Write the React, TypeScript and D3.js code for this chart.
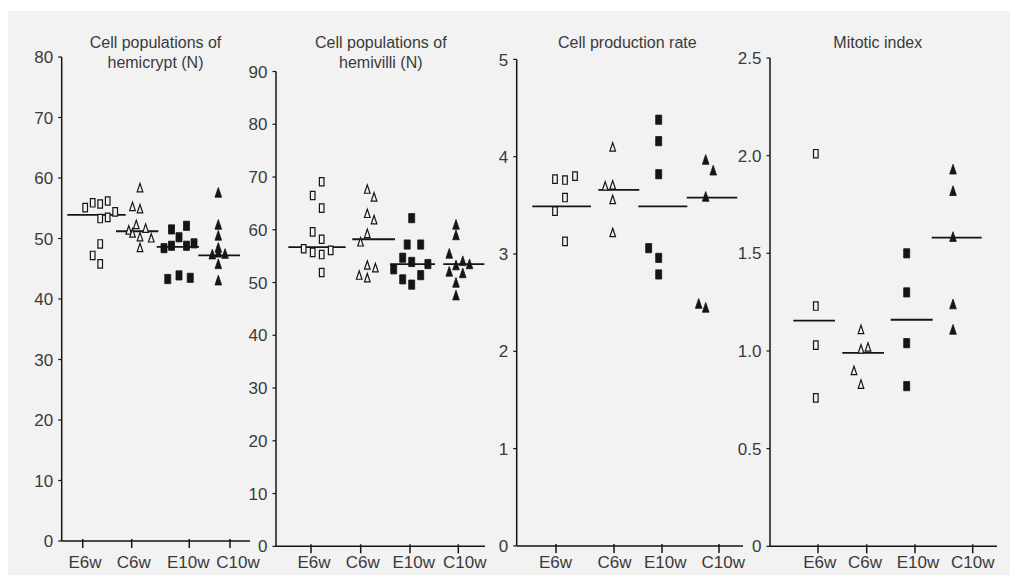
import React, { useRef, useEffect } from 'react';
import { select, scaleLinear, range } from 'd3';

const categories = ['E6w', 'C6w', 'E10w', 'C10w'];

// one list per group, order follows categories
const hemicryptValues = [
  [55.1, 55.9, 55.7, 56.2, 53.3, 53.5, 54.4, 49.1, 47.2, 45.8],
  [58.4, 55.3, 54.9, 52.3, 51.4, 50.9, 51.7, 50.3, 50.1, 48.5],
  [51.5, 52.1, 50.2, 48.4, 48.8, 48.8, 49.2, 43.3, 43.9, 43.5],
  [57.6, 52.3, 50.5, 48.5, 47.4, 47.7, 47.5, 45.8, 43.1],
];
// dodge column of each point inside its group
const hemicryptCols = [
  [-2, -1, 0, 1, 0, 1, 2, 0, -1, 0],
  [0, -1, 0, -0.5, -1.5, -1, 0.75, 0, 1.5, 0],
  [-1, 1, 0, -2, -1, 1, 2, -1.5, 0, 1.5],
  [0, 0, 0, 0, -0.8, 0, 0.9, 0, 0],
];
const hemicryptMeans = [53.9, 51.2, 48.6, 47.2];

const hemivilliValues = [
  [69.1, 66.5, 64.1, 59.6, 58.2, 56.4, 55.7, 55.3, 56.1, 51.9],
  [67.7, 66.2, 63.1, 61.9, 59.3, 57.7, 53.3, 52.8, 51.4, 50.9],
  [62.2, 57.2, 57.2, 54.7, 53.9, 53.5, 52.5, 50.6, 51.4, 49.6],
  [61.0, 59.0, 55.5, 53.3, 54.1, 53.5, 52.1, 51.8, 50.0, 47.6],
];
const hemivilliCols = [
  [0, -1, 0, -1, 0, -2, -1, 0, 1, 0],
  [0, 0.75, 0, 0.75, 0, -0.75, 0, 0.9, -0.9, 0],
  [0, -0.5, 1, -1, 0, 1.8, -2, -1, 1, 0],
  [0, 0, -0.75, 0, 0.75, 1.5, -0.75, 0.75, 0, 0],
];
const hemivilliMeans = [56.7, 58.2, 53.5, 53.5];

const productionValues = [
  [3.77, 3.76, 3.80, 3.58, 3.44, 3.13],
  [4.10, 3.70, 3.71, 3.56, 3.22],
  [4.38, 4.16, 3.82, 3.06, 2.96, 2.79],
  [3.97, 3.86, 3.59, 2.49, 2.45],
];
const productionCols = [
  [-1, 0, 1, 0, -1, 0],
  [0, -0.75, 0, 0, 0],
  [0, 0, 0, -1, 0, 0],
  [0, 0.75, 0, -0.7, 0],
];
const productionMeans = [3.49, 3.66, 3.49, 3.58];

const mitoticValues = [
  [2.01, 1.23, 1.03, 0.76],
  [1.11, 1.01, 1.02, 0.90, 0.83],
  [1.50, 1.30, 1.04, 0.82],
  [1.93, 1.82, 1.585, 1.24, 1.11],
];
const mitoticCols = [
  [0, 0, 0, 0],
  [0, 0, 1, -1, 0],
  [0, 0, 0, 0],
  [0, 0, 0, 0, 0],
];
const mitoticMeans = [1.155, 0.99, 1.16, 1.58];

// layout of the four panels (pixels), kept apart from the data
const panels = [
  {
    title: ['Cell populations of', 'hemicrypt (N)'], titleX: 155.5,
    x0: 61.7, len: 188.3, yZero: 541, yTop: 57, yMax: 80, yStep: 10, step: 7.5,
    tickAt: [21, 70, 127.6, 168.3], labelAt: [23.3, 72, 126.6, 176.3],
    groupAt: [38.5, 78.3, 117.3, 156.6],
    meanSpan: [[5.6, 64], [54.3, 96.6], [95, 137.3], [136.6, 178.3]],
    values: hemicryptValues, cols: hemicryptCols, means: hemicryptMeans,
    fmt: (d) => String(d),
  },
  {
    title: ['Cell populations of', 'hemivilli (N)'], titleX: 380.8,
    x0: 276, len: 209, yZero: 546.3, yTop: 71.5, yMax: 90, yStep: 10, step: 9,
    tickAt: [35, 84.7, 134, 182.3], labelAt: [38, 86.8, 137.8, 188.7],
    groupAt: [45.7, 91.3, 135.7, 180],
    meanSpan: [[12.3, 69.7], [76.3, 119], [114, 159], [167.3, 208.3]],
    values: hemivilliValues, cols: hemivilliCols, means: hemivilliMeans,
    fmt: (d) => String(d),
  },
  {
    title: ['Cell production rate'], titleX: 627.3,
    x0: 516.7, len: 226.3, yZero: 545.9, yTop: 59.4, yMax: 5, yStep: 1, step: 10,
    tickAt: [39.3, 97.3, 145.3, 202.3], labelAt: [38.8, 97.8, 148.6, 206.6],
    groupAt: [48.3, 96, 142, 189],
    meanSpan: [[15.6, 74.3], [81.6, 122.6], [121.6, 170.6], [170, 220.6]],
    values: productionValues, cols: productionCols, means: productionMeans,
    fmt: (d) => String(d),
  },
  {
    title: ['Mitotic index'], titleX: 877.8,
    x0: 770, len: 227, yZero: 546.3, yTop: 58, yMax: 2.5, yStep: 0.5, step: 7,
    tickAt: [48, 96.7, 145, 202.7], labelAt: [49.7, 95, 148, 202.8],
    groupAt: [45.8, 91, 136.7, 183],
    meanSpan: [[23.3, 65], [72.3, 114], [120.7, 162.7], [161.7, 211.7]],
    values: mitoticValues, cols: mitoticCols, means: mitoticMeans,
    fmt: (d) => (d === 0 ? '0' : d.toFixed(1)),
  },
];

const FONT = '"Liberation Sans", Arial, sans-serif';
const BG = '#f2f2f2';
const INK = '#151515';
const TEXT = '#3a3a3a';

// marker for each group: E6w open square, C6w open triangle, E10w filled square, C10w filled triangle
const markerPath = (i) => {
  if (i === 0) return 'M-2.3,-4.2H2.3V4.2H-2.3Z';
  if (i === 1) return 'M0,-4.3L2.8,4.1H-2.8Z';
  if (i === 2) return 'M-3,-4.6H3V4.6H-3Z';
  return 'M0,-5L3.3,4.7H-3.3Z';
};

const App = () => {
  const svgRef = useRef(null);

  useEffect(() => {
    const svg = select(svgRef.current);
    svg.selectAll('*').remove();

    svg.append('rect')
      .attr('x', 8).attr('y', 11)
      .attr('width', 1002).attr('height', 564)
      .attr('fill', BG);

    panels.forEach((p) => {
      const g = svg.append('g');
      const x = scaleLinear().domain([0, p.len]).range([p.x0, p.x0 + p.len]);
      const y = scaleLinear().domain([0, p.yMax]).range([p.yZero, p.yTop]);

      // title
      p.title.forEach((t, k) => {
        g.append('text')
          .attr('x', p.titleX)
          .attr('y', 47.5 + k * 20.5)
          .attr('text-anchor', 'middle')
          .attr('font-family', FONT)
          .attr('font-size', 16)
          .attr('fill', TEXT)
          .text(t);
      });

      // y axis
      g.append('line')
        .attr('x1', p.x0).attr('x2', p.x0)
        .attr('y1', y(p.yMax)).attr('y2', y(0))
        .attr('stroke', INK).attr('stroke-width', 1.5);
      const yTicks = range(0, p.yMax + p.yStep / 2, p.yStep);
      g.selectAll('.ytick')
        .data(yTicks)
        .join('line')
        .attr('class', 'ytick')
        .attr('x1', p.x0 - 3.5).attr('x2', p.x0)
        .attr('y1', (d) => y(d)).attr('y2', (d) => y(d))
        .attr('stroke', INK).attr('stroke-width', 1.2);
      g.selectAll('.ylabel')
        .data(yTicks)
        .join('text')
        .attr('class', 'ylabel')
        .attr('x', p.x0 - 8.5)
        .attr('y', (d) => y(d))
        .attr('dy', '0.36em')
        .attr('text-anchor', 'end')
        .attr('font-family', FONT)
        .attr('font-size', 17)
        .attr('fill', TEXT)
        .text(p.fmt);

      // x axis
      g.append('line')
        .attr('x1', x(0)).attr('x2', x(p.len))
        .attr('y1', p.yZero).attr('y2', p.yZero)
        .attr('stroke', INK).attr('stroke-width', 1.5);
      g.selectAll('.xtick')
        .data(p.tickAt)
        .join('line')
        .attr('class', 'xtick')
        .attr('x1', (d) => x(d)).attr('x2', (d) => x(d))
        .attr('y1', p.yZero - 2).attr('y2', p.yZero + 7)
        .attr('stroke', INK).attr('stroke-width', 1.5);
      g.selectAll('.xlabel')
        .data(p.labelAt)
        .join('text')
        .attr('class', 'xlabel')
        .attr('x', (d) => x(d))
        .attr('y', 568)
        .attr('text-anchor', 'middle')
        .attr('font-family', FONT)
        .attr('font-size', 17)
        .attr('fill', TEXT)
        .text((d, i) => categories[i]);

      // mean lines
      g.selectAll('.mean')
        .data(p.means)
        .join('line')
        .attr('class', 'mean')
        .attr('x1', (d, i) => x(p.meanSpan[i][0]))
        .attr('x2', (d, i) => x(p.meanSpan[i][1]))
        .attr('y1', (d) => y(d)).attr('y2', (d) => y(d))
        .attr('stroke', INK).attr('stroke-width', 1.8);

      // points
      p.values.forEach((vals, gi) => {
        const filled = gi >= 2;
        g.selectAll(`.pt${gi}`)
          .data(vals)
          .join('path')
          .attr('class', `pt${gi}`)
          .attr('d', markerPath(gi))
          .attr('transform', (d, j) =>
            `translate(${x(p.groupAt[gi] + p.cols[gi][j] * p.step)},${y(d)})`)
          .attr('fill', filled ? INK : BG)
          .attr('stroke', INK)
          .attr('stroke-width', filled ? 0.8 : 1.2);
      });
    });
  }, []);

  return (
    <svg
      ref={svgRef}
      width={1010}
      height={585}
      style={{ position: 'absolute', left: 0, top: 0, display: 'block', background: '#fff' }}
    />
  );
};

export default App;
